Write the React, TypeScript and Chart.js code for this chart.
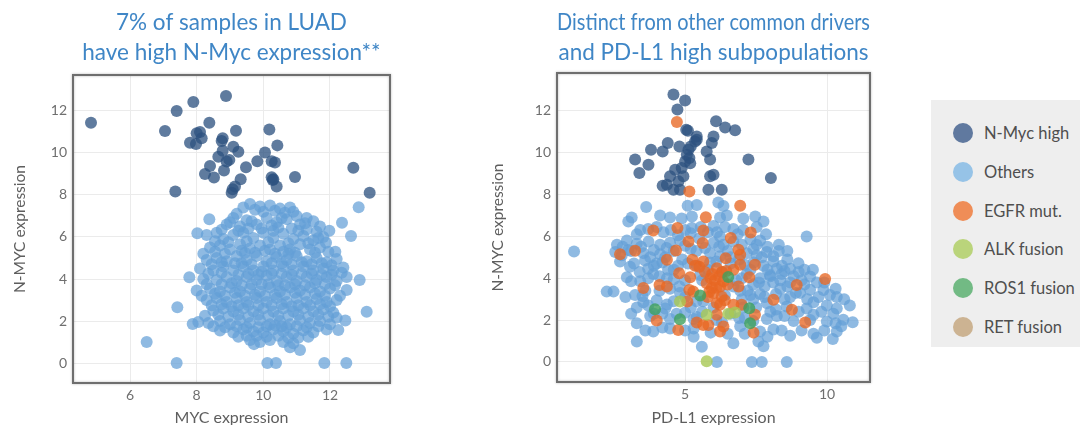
import React, { useEffect, useRef } from "react";
import { Chart, registerables } from "chart.js";

Chart.register(...registerables);

type Pt = [number, number];

const FONT = "Lato, 'Open Sans', 'DejaVu Sans', sans-serif";
const TITLE_COLOR = "#3f86c6";
const TICK_COLOR = "#6f6f6f";
const AXIS_TITLE_COLOR = "#5e5e5e";

const leftTitle = ["7% of samples in LUAD", "have high N-Myc expression**"];
const rightTitle = ["Distinct from other common drivers", "and PD-L1 high subpopulations"];
const leftXLabel = "MYC expression";
const rightXLabel = "PD-L1 expression";
const yLabel = "N-MYC expression";

const yTicks = [0, 2, 4, 6, 8, 10, 12];
const leftXTicks = [6, 8, 10, 12];
const rightXTicks = [5, 10];

const seriesNames = ["N-Myc high", "Others", "EGFR mut.", "ALK fusion", "ROS1 fusion", "RET fusion"];
const seriesColors = [
  "rgba(45,82,128,0.76)",
  "rgba(100,160,215,0.72)",
  "rgba(232,104,36,0.78)",
  "rgba(168,200,84,0.8)",
  "rgba(62,160,92,0.8)",
  "rgba(190,160,120,0.8)",
];
const legendColors = [
  "rgba(70,100,145,0.85)",
  "rgba(140,190,230,0.9)",
  "rgba(238,130,70,0.9)",
  "rgba(180,208,110,0.9)",
  "rgba(100,180,120,0.9)",
  "rgba(200,172,135,0.9)",
];

const leftNMycHigh: Pt[] = [
  [4.83, 11.44], [8.88, 12.71], [7.9, 12.43], [7.4, 12.0], [7.05, 11.05], [8.38, 11.44],
  [8.1, 11.0], [8.0, 10.94], [8.15, 10.7], [7.8, 10.49], [7.98, 10.43], [9.18, 11.06],
  [8.78, 10.7], [8.75, 10.57], [10.18, 11.12], [10.42, 10.36], [9.1, 10.3], [9.25, 10.06],
  [8.78, 10.11], [8.65, 9.82], [8.9, 9.59], [8.98, 9.67], [10.05, 10.02], [9.82, 9.6],
  [10.25, 9.6], [10.35, 9.54], [9.48, 9.32], [8.82, 9.16], [8.4, 9.38], [8.25, 9.0],
  [8.52, 8.83], [9.32, 8.75], [10.25, 8.84], [10.3, 8.75], [10.4, 8.4], [10.95, 8.86],
  [12.7, 9.29], [13.19, 8.11], [7.36, 8.16], [9.08, 8.27], [9.15, 8.4], [9.05, 8.11],
  [10.28, 8.71],
];

const leftOthers: Pt[] = [
  [9.4, 7.4], [9.6, 7.57], [9.9, 7.45], [10.2, 7.5], [10.5, 7.35], [10.8, 7.4], [9.2, 7.1],
  [10.0, 7.2], [10.65, 7.15], [11.0, 7.0], [11.3, 6.9],
  [8.38, 6.84], [8.9, 6.6], [9.1, 6.9], [9.5, 6.8], [9.8, 6.6], [10.1, 6.9], [10.4, 6.7],
  [10.7, 6.85], [11.1, 6.6], [11.5, 6.75], [11.7, 6.5], [9.3, 6.5], [10.3, 6.3], [11.3, 6.35],
  [8.02, 6.18], [8.3, 6.1], [8.6, 6.2], [8.8, 5.9], [9.1, 6.1], [9.4, 6.2], [9.7, 5.95],
  [10.0, 6.2], [10.3, 5.95], [10.6, 6.15], [10.9, 5.9], [11.2, 6.05], [11.5, 5.85], [11.8, 6.0],
  [11.98, 6.3],
  [8.4, 5.5], [8.7, 5.6], [9.0, 5.4], [9.3, 5.65], [9.6, 5.45], [9.9, 5.6], [10.2, 5.4],
  [10.5, 5.6], [10.8, 5.4], [11.1, 5.65], [11.4, 5.4], [11.7, 5.5], [11.88, 5.73], [12.16, 5.3],
  [8.2, 5.2],
  [8.3, 4.9], [8.6, 5.0], [8.9, 4.85], [9.2, 5.1], [9.5, 4.9], [9.8, 5.1], [10.1, 4.85],
  [10.4, 5.05], [10.7, 4.9], [11.0, 5.1], [11.3, 4.85], [11.6, 5.0], [11.9, 4.8], [12.2, 4.95],
  [8.1, 4.5], [8.5, 4.4], [8.8, 4.6], [9.1, 4.4], [9.4, 4.6], [9.7, 4.4], [10.0, 4.6],
  [10.3, 4.4], [10.6, 4.6], [10.9, 4.4], [11.2, 4.6], [11.5, 4.4], [11.8, 4.5], [12.1, 4.4],
  [12.4, 4.55],
  [7.78, 4.08], [8.2, 4.0], [8.6, 3.95], [8.9, 4.1], [9.2, 3.9], [9.5, 4.1], [9.8, 3.95],
  [10.1, 4.15], [10.4, 3.9], [10.7, 4.1], [11.0, 3.9], [11.3, 4.1], [11.6, 3.95], [11.9, 4.1],
  [12.2, 3.9], [12.5, 4.1], [12.89, 3.95],
  [8.0, 3.45], [8.4, 3.55], [8.7, 3.4], [9.0, 3.6], [9.3, 3.4], [9.6, 3.55], [9.9, 3.4],
  [10.2, 3.6], [10.5, 3.4], [10.8, 3.6], [11.1, 3.45], [11.4, 3.6], [11.7, 3.4], [12.0, 3.55],
  [12.5, 3.48], [12.3, 3.2],
  [8.3, 3.0], [8.6, 3.1], [8.9, 2.9], [9.2, 3.1], [9.5, 2.9], [9.8, 3.1], [10.1, 2.9],
  [10.4, 3.1], [10.7, 2.9], [11.0, 3.1], [11.3, 2.9], [11.6, 3.05], [11.9, 2.9], [12.2, 3.0],
  [8.5, 2.5], [8.8, 2.6], [9.1, 2.45], [9.4, 2.6], [9.7, 2.45], [10.0, 2.6], [10.3, 2.45],
  [10.6, 2.6], [10.9, 2.45], [11.2, 2.6], [11.5, 2.45], [11.8, 2.55], [12.1, 2.4],
  [7.88, 1.86], [8.05, 1.95], [8.35, 1.9], [8.7, 2.0], [9.0, 1.85], [9.3, 2.05], [9.6, 1.9],
  [9.9, 2.05], [10.2, 1.85], [10.5, 2.0], [10.8, 1.85], [11.1, 2.05], [11.4, 1.9], [11.7, 2.0],
  [12.0, 1.85], [12.46, 2.02],
  [8.7, 1.55], [9.1, 1.45], [9.4, 1.6], [9.7, 1.5], [10.0, 1.45], [10.3, 1.6], [10.6, 1.5],
  [10.9, 1.4], [11.2, 1.55], [11.5, 1.45], [12.25, 1.57], [11.9, 1.6],
  [9.6, 1.1], [9.9, 1.0], [10.2, 1.1], [10.6, 1.0], [10.9, 0.94], [11.1, 0.62], [10.8, 0.75],
  [9.72, 0.9],
  [9.65, 3.75], [10.35, 3.25], [9.95, 4.35], [10.25, 4.75], [9.45, 3.2], [10.55, 4.25],
  [9.75, 5.25], [10.65, 3.7], [9.15, 4.75], [10.95, 3.35], [9.85, 2.75], [10.45, 2.25],
  [10.15, 3.75], [9.55, 4.25], [10.05, 5.35], [10.75, 5.2], [9.35, 5.35], [11.15, 4.25],
  [11.25, 3.25], [9.25, 2.75], [10.55, 1.75], [9.85, 1.7], [11.05, 2.75], [10.85, 6.4],
  [9.75, 7.3], [10.35, 7.25], [10.9, 7.2],
  [9.0, 6.7], [9.65, 6.75], [10.25, 6.55], [10.55, 6.9], [11.25, 6.65],
  [8.75, 6.35], [9.25, 6.3], [9.55, 6.4], [9.95, 6.4], [10.45, 6.45], [11.05, 6.3], [11.6, 6.25],
  [8.55, 5.8], [8.95, 5.75], [9.5, 5.8], [10.15, 5.75], [10.75, 5.7], [11.35, 5.7], [11.65, 5.95],
  [8.55, 5.3], [8.85, 5.2], [9.45, 5.25], [10.35, 5.2], [10.6, 5.3], [10.95, 5.25], [11.55, 5.25],
  [11.95, 5.3],
  [8.45, 4.7], [8.75, 4.8], [9.35, 4.75], [9.65, 4.7], [10.55, 4.75], [10.85, 4.7], [11.15, 4.8],
  [11.45, 4.7], [11.75, 4.75], [12.05, 4.65],
  [8.35, 4.25], [8.75, 4.3], [9.25, 4.2], [9.85, 4.2], [10.25, 4.25], [10.85, 4.2], [11.45, 4.25],
  [11.75, 4.2], [12.05, 4.2], [12.35, 4.3],
  [8.3, 3.75], [8.75, 3.75], [9.05, 3.8], [9.35, 3.7], [9.95, 3.75], [10.45, 3.7], [10.95, 3.75],
  [11.25, 3.7], [11.55, 3.8], [11.85, 3.75], [12.15, 3.7],
  [8.15, 3.2], [8.55, 3.3], [8.85, 3.2], [9.15, 3.35], [9.75, 3.25], [10.05, 3.2], [10.65, 3.25],
  [11.55, 3.3], [11.85, 3.2],
  [8.45, 2.75], [8.75, 2.8], [9.05, 2.7], [9.55, 2.75], [10.25, 2.75], [10.55, 2.8], [10.85, 2.7],
  [11.4, 2.75], [11.7, 2.8], [12.0, 2.7],
  [8.25, 2.25], [8.65, 2.3], [8.95, 2.2], [9.25, 2.3], [9.55, 2.2], [9.85, 2.3], [10.15, 2.25],
  [10.75, 2.25], [11.05, 2.3], [11.35, 2.2], [11.65, 2.3], [11.95, 2.2], [12.2, 2.15],
  [8.5, 1.75], [8.85, 1.7], [9.2, 1.75], [9.5, 1.7], [10.1, 1.75], [10.35, 1.8], [10.7, 1.7],
  [11.0, 1.75], [11.3, 1.7], [11.65, 1.75],
  [9.25, 1.25], [9.5, 1.3], [9.8, 1.3], [10.1, 1.25], [10.45, 1.3], [10.75, 1.2], [11.05, 1.2],
  [11.35, 1.25],
  [6.5, 1.0], [7.4, 0.0], [10.12, 0.0], [10.38, 0.0], [11.83, 0.0], [12.49, 0.0],
  [7.42, 2.65], [13.1, 2.44], [12.86, 7.41], [12.36, 6.68], [12.63, 6.05],
];

const rightNMycHigh: Pt[] = [
  [4.59, 12.78], [5.0, 12.49], [4.73, 12.06], [5.04, 11.1], [5.1, 11.05], [5.41, 10.78],
  [5.35, 10.54], [6.09, 11.5], [6.41, 11.21], [6.76, 11.07], [6.0, 10.78], [5.94, 10.46],
  [5.76, 10.06], [5.88, 9.67], [4.39, 10.46], [4.8, 10.3], [4.21, 10.06], [3.8, 10.14],
  [3.24, 9.67], [3.71, 9.43], [3.39, 9.03], [5.12, 10.14], [5.15, 9.75], [5.0, 9.58],
  [4.88, 9.27], [4.65, 9.19], [4.47, 8.87], [4.36, 8.47], [4.77, 8.63], [4.94, 8.87],
  [4.82, 8.23], [7.23, 9.67], [8.02, 8.79], [5.88, 8.87], [6.0, 8.95], [5.82, 8.23],
  [6.29, 8.23], [5.41, 10.62], [5.18, 9.5], [4.21, 8.42], [4.59, 8.23], [5.06, 9.9],
  [5.2, 10.3],
];

const rightOthers: Pt[] = [
  [5.09, 7.46], [5.41, 7.5], [6.17, 7.62], [6.35, 7.45], [3.63, 7.4],
  [3.12, 6.9], [3.0, 6.71], [4.12, 7.0], [4.47, 6.9], [4.88, 6.85], [5.24, 6.95], [6.23, 6.9],
  [6.47, 7.0], [7.05, 6.85], [7.76, 6.71], [7.47, 6.95],
  [3.42, 6.3], [4.0, 6.45], [4.24, 6.2], [5.24, 6.4], [6.0, 6.5], [6.12, 6.2], [6.7, 6.35],
  [7.05, 6.3], [7.52, 6.45], [6.23, 6.0],
  [2.95, 5.8], [3.3, 5.65], [3.71, 5.75], [4.12, 5.6], [4.47, 5.7], [4.82, 5.8], [6.0, 5.7],
  [6.35, 5.6], [6.7, 5.75], [7.52, 5.6], [7.64, 5.8], [9.28, 6.0],
  [1.09, 5.28], [2.54, 5.25], [2.77, 5.1], [3.53, 5.2], [3.77, 5.0], [4.12, 5.15], [5.88, 5.2],
  [6.23, 5.05], [7.17, 5.2], [7.52, 5.1], [7.88, 5.25], [8.11, 5.05],
  [2.71, 4.8], [3.06, 4.55], [3.59, 4.85], [4.0, 4.7], [5.41, 4.6], [5.88, 4.75], [7.41, 4.75],
  [7.76, 4.6], [8.11, 4.8], [8.41, 4.6], [8.99, 4.72], [8.7, 4.45], [8.23, 4.45],
  [2.95, 4.05], [3.42, 3.85], [3.88, 4.2], [4.36, 4.0], [5.53, 4.15], [7.17, 4.2], [7.64, 4.0],
  [7.99, 4.15], [8.35, 3.9], [8.82, 4.1], [9.4, 4.08], [9.64, 3.8],
  [2.24, 3.36], [2.48, 3.36], [3.24, 3.2], [4.47, 3.5], [4.82, 3.3], [6.94, 3.4], [7.64, 3.25],
  [8.35, 3.5], [9.05, 3.3], [9.4, 3.45], [9.87, 3.44], [10.1, 3.2], [10.34, 3.1],
  [3.3, 2.6], [3.53, 2.85], [4.36, 2.75], [5.64, 2.9], [7.05, 2.6], [7.88, 2.8], [8.58, 2.65],
  [9.28, 2.55], [9.52, 2.85], [9.99, 2.7], [10.34, 2.55],
  [3.3, 1.85], [3.77, 2.2], [4.47, 2.05], [5.41, 2.15], [7.88, 2.05], [8.23, 2.2], [8.82, 1.95],
  [9.52, 2.25], [9.99, 1.93], [10.57, 2.01], [10.22, 2.3],
  [3.88, 1.45], [4.47, 1.6], [5.0, 1.5], [6.94, 1.7], [7.64, 1.45], [8.11, 1.55], [8.7, 1.25],
  [9.52, 1.35], [10.34, 1.45], [9.64, 1.15],
  [3.3, 0.97], [5.59, 0.73], [6.7, 0.89], [7.58, 0.97], [7.76, 0.75],
  [6.12, 0.0], [7.35, 0.0], [7.7, 0.0], [8.58, 0.0],
  [4.6, 4.4], [4.9, 4.9], [5.2, 5.4], [5.5, 5.9], [5.8, 6.2], [6.2, 5.5], [6.6, 5.0], [6.9, 4.9],
  [7.3, 4.4], [7.6, 3.8], [7.2, 3.4], [6.8, 3.9], [6.4, 3.2], [6.0, 2.6], [5.6, 2.4], [5.2, 2.6],
  [4.8, 3.6], [4.4, 4.4], [4.1, 3.4], [4.6, 5.3], [5.0, 6.3], [5.4, 5.3], [5.8, 4.4], [6.3, 4.3],
  [6.7, 3.6], [7.0, 3.0], [7.4, 3.0], [7.8, 3.6], [8.0, 4.1], [7.7, 5.0], [7.9, 5.5], [8.3, 5.3],
  [8.6, 4.9], [8.4, 4.2], [8.7, 3.8], [8.9, 3.3], [9.1, 3.9], [9.2, 4.4], [8.5, 3.0], [8.2, 2.5],
  [7.5, 2.6], [7.1, 2.1], [6.6, 2.3], [6.3, 1.9], [5.9, 1.4], [5.3, 1.2], [4.7, 2.3], [4.2, 2.3],
  [3.7, 2.7], [3.6, 3.4], [3.9, 4.6], [4.3, 5.0], [3.4, 4.3], [3.1, 5.3], [2.8, 5.5],
  [3.3, 6.1], [3.7, 6.35], [4.5, 6.3], [4.75, 6.05], [5.2, 6.15], [5.55, 6.45], [6.4, 6.45],
  [6.85, 6.1], [7.3, 5.85], [7.85, 6.1],
  [2.6, 5.6], [3.0, 5.35], [3.45, 5.5], [3.9, 5.35], [4.35, 5.45], [5.0, 5.55], [5.7, 5.45],
  [6.5, 5.3], [7.0, 5.6], [7.4, 5.4], [8.3, 5.6], [8.6, 5.3],
  [3.2, 4.7], [3.7, 4.45], [4.2, 4.75], [4.75, 4.6], [5.1, 4.7], [6.1, 4.8], [6.6, 4.7],
  [7.1, 4.65], [7.9, 4.4], [8.5, 4.35], [9.0, 4.3], [9.5, 4.4],
  [3.1, 3.85], [3.7, 4.0], [4.1, 4.1], [4.6, 3.95], [5.0, 3.9], [5.6, 3.9], [7.0, 4.0], [7.4, 3.7],
  [8.1, 3.8], [8.6, 3.6], [9.2, 3.7], [9.9, 3.8], [10.3, 3.5],
  [2.9, 3.1], [3.5, 3.15], [4.0, 2.95], [4.6, 2.9], [5.0, 3.1], [5.4, 2.9], [7.3, 3.2], [7.8, 3.1],
  [8.2, 3.25], [8.7, 3.1], [9.3, 3.0], [9.7, 3.1], [10.6, 3.0], [10.8, 2.7],
  [3.1, 2.3], [3.9, 2.3], [4.3, 2.55], [5.0, 2.35], [5.3, 2.05], [6.1, 2.0], [6.9, 2.1], [7.4, 1.95],
  [8.0, 2.4], [8.5, 2.2], [9.0, 2.4], [9.4, 2.0], [9.8, 2.4], [10.3, 1.85], [10.9, 1.9],
  [3.6, 1.5], [4.2, 1.65], [5.3, 1.6], [6.5, 1.35], [7.1, 1.35], [7.9, 1.2], [8.4, 1.5], [9.1, 1.5],
  [9.9, 1.5], [10.5, 1.7], [10.2, 1.1],
];

const rightEGFR: Pt[] = [
  [4.71, 11.47], [5.15, 8.15], [6.94, 7.46], [3.88, 6.28], [4.73, 6.4], [5.73, 6.92],
  [5.64, 6.28], [7.31, 6.19], [6.61, 5.92], [5.12, 5.76], [5.62, 5.68], [2.71, 5.15],
  [3.24, 5.31], [4.68, 5.33], [6.88, 5.36], [6.94, 5.12], [4.36, 4.88], [5.26, 4.88],
  [5.64, 4.8], [6.43, 4.96], [6.94, 4.64], [4.79, 4.24], [5.18, 4.05], [6.12, 4.48],
  [6.3, 4.3], [6.45, 4.35], [6.7, 4.4], [7.46, 4.64], [7.26, 4.05], [3.53, 3.53],
  [4.1, 3.68], [4.36, 3.6], [5.76, 3.76], [5.94, 3.53], [6.0, 3.29], [6.23, 3.6],
  [6.88, 3.6], [5.15, 3.44], [5.29, 3.36], [5.08, 2.89], [6.29, 3.12], [6.12, 2.81],
  [8.11, 2.97], [8.93, 3.68], [9.93, 3.96], [6.23, 2.73], [6.7, 2.73], [6.99, 2.73],
  [7.46, 2.25], [8.76, 2.49], [9.23, 1.88], [4.0, 1.98], [5.41, 1.88], [5.64, 1.77],
  [5.82, 1.77], [6.35, 1.69], [6.23, 1.45], [4.76, 1.53], [7.41, 1.4], [6.12, 2.25],
  [5.9, 4.0], [6.05, 3.9], [6.2, 4.1], [5.85, 3.35], [6.1, 3.55], [6.35, 3.85], [5.7, 4.3],
  [5.5, 4.55], [5.35, 4.6], [5.95, 4.2], [6.5, 3.7], [5.8, 3.1], [6.4, 2.95],
];

const rightALK: Pt[] = [
  [4.82, 2.89], [5.76, 2.25], [6.52, 2.3], [6.76, 2.36], [5.76, 0.03],
];

const rightROS1: Pt[] = [
  [3.94, 2.52], [4.82, 2.04], [5.53, 3.18], [7.29, 1.85], [6.52, 4.06], [7.26, 2.57],
];

const rightRET: Pt[] = [];

const framePlugin = {
  id: "frame",
  afterDatasetsDraw(chart: any) {
    const { ctx, chartArea } = chart;
    const { left, top, width, height } = chartArea;
    ctx.save();
    ctx.shadowColor = "rgba(0,0,0,0.3)";
    ctx.shadowBlur = 2.5;
    ctx.strokeStyle = "#6e6e6e";
    ctx.lineWidth = 2;
    ctx.strokeRect(left, top, width, height);
    ctx.restore();
  },
};

function toXY(pts: Pt[]) {
  return pts.map(([x, y]) => ({ x, y }));
}

type Series = { name: string; color: string; data: Pt[]; order: number };

type PlotProps = {
  left: number;
  width: number;
  padRight: number;
  yWidth: number;
  xHeight: number;
  titlePadBottom: number;
  title: string[];
  xLabel: string;
  xMin: number;
  xMax: number;
  yMin: number;
  yMax: number;
  xTicks: number[];
  series: Series[];
};

function ScatterPlot(p: PlotProps) {
  const ref = useRef<HTMLCanvasElement>(null);
  useEffect(() => {
    const chart = new Chart(ref.current as HTMLCanvasElement, {
      type: "scatter",
      data: {
        datasets: p.series.map((s) => ({
          label: s.name,
          data: toXY(s.data),
          backgroundColor: s.color,
          borderWidth: 0,
          pointRadius: 6,
          pointHoverRadius: 6,
          order: s.order,
        })),
      },
      options: {
        animation: false,
        responsive: false,
        events: [],
        layout: { padding: { left: 0, right: p.padRight, top: 7, bottom: 0 } },
        plugins: {
          legend: { display: false },
          tooltip: { enabled: false },
          title: {
            display: true,
            text: p.title,
            color: TITLE_COLOR,
            fullSize: false,
            font: { family: FONT, size: 22.5, weight: "normal", lineHeight: "30px" },
            padding: { top: 1, bottom: p.titlePadBottom - 1 },
          },
        },
        scales: {
          x: {
            type: "linear",
            position: "bottom",
            min: p.xMin,
            max: p.xMax,
            afterBuildTicks: (s: any) => {
              s.ticks = p.xTicks.map((v) => ({ value: v }));
            },
            afterFit: (s: any) => {
              s.height = p.xHeight;
            },
            grid: { color: "#ebebeb", drawTicks: false },
            border: { display: false },
            ticks: { color: TICK_COLOR, font: { family: FONT, size: 14 }, padding: 4 },
            title: {
              display: true,
              text: p.xLabel,
              color: AXIS_TITLE_COLOR,
              font: { family: FONT, size: 16, lineHeight: 1 },
              padding: { top: 0, bottom: -1 },
            },
          },
          y: {
            type: "linear",
            min: p.yMin,
            max: p.yMax,
            afterBuildTicks: (s: any) => {
              s.ticks = yTicks.map((v) => ({ value: v }));
            },
            afterFit: (s: any) => {
              s.width = p.yWidth;
            },
            grid: { color: "#ebebeb", drawTicks: false },
            border: { display: false },
            ticks: { color: TICK_COLOR, font: { family: FONT, size: 14 }, padding: 6 },
            title: {
              display: true,
              text: yLabel,
              color: AXIS_TITLE_COLOR,
              font: { family: FONT, size: 15.5, lineHeight: 1 },
              padding: { top: 12, bottom: 0 },
            },
          },
        },
      } as any,
      plugins: [framePlugin],
    });
    return () => chart.destroy();
  }, []);
  return (
    <canvas
      ref={ref}
      width={p.width}
      height={425}
      style={{ position: "absolute", left: p.left, top: 0, width: p.width, height: 425 }}
    />
  );
}

function Legend() {
  return (
    <div
      style={{
        position: "absolute",
        left: 931,
        top: 100,
        width: 149,
        height: 247,
        background: "#eeeeee",
        fontFamily: FONT,
        fontSize: 16.5,
        color: "#4f4f4f",
      }}
    >
      {seriesNames.map((name, i) => (
        <div
          key={name}
          style={{
            position: "absolute",
            left: 22,
            top: 23 + i * 38.8,
            height: 20,
            display: "flex",
            alignItems: "center",
            whiteSpace: "nowrap",
          }}
        >
          <span
            style={{
              display: "inline-block",
              width: 20,
              height: 20,
              borderRadius: 10,
              background: legendColors[i],
              marginRight: 11,
              flex: "0 0 auto",
            }}
          />
          <span>{name}</span>
        </div>
      ))}
    </div>
  );
}

export default function App() {
  const leftSeries: Series[] = [
    { name: seriesNames[0], color: seriesColors[0], data: leftNMycHigh, order: 1 },
    { name: seriesNames[1], color: seriesColors[1], data: leftOthers, order: 6 },
  ];
  const rightSeries: Series[] = [
    { name: seriesNames[0], color: seriesColors[0], data: rightNMycHigh, order: 5 },
    { name: seriesNames[1], color: seriesColors[1], data: rightOthers, order: 6 },
    { name: seriesNames[2], color: seriesColors[2], data: rightEGFR, order: 4 },
    { name: seriesNames[3], color: seriesColors[3], data: rightALK, order: 3 },
    { name: seriesNames[4], color: seriesColors[4], data: rightROS1, order: 2 },
    { name: seriesNames[5], color: seriesColors[5], data: rightRET, order: 1 },
  ];
  return (
    <div
      style={{
        position: "absolute",
        left: 0,
        top: 0,
        width: 1080,
        height: 425,
        background: "#fff",
        overflow: "hidden",
      }}
    >
      <ScatterPlot
        left={0}
        width={420}
        padRight={30}
        yWidth={73}
        xHeight={42}
        titlePadBottom={8}
        title={leftTitle}
        xLabel={leftXLabel}
        xMin={4.29}
        xMax={13.8}
        yMin={-0.95}
        yMax={13.71}
        xTicks={leftXTicks}
        series={leftSeries}
      />
      <ScatterPlot
        left={478}
        width={422}
        padRight={30}
        yWidth={79}
        xHeight={43}
        titlePadBottom={6}
        title={rightTitle}
        xLabel={rightXLabel}
        xMin={0.49}
        xMax={11.51}
        yMin={-0.96}
        yMax={13.81}
        xTicks={rightXTicks}
        series={rightSeries}
      />
      <Legend />
    </div>
  );
}
